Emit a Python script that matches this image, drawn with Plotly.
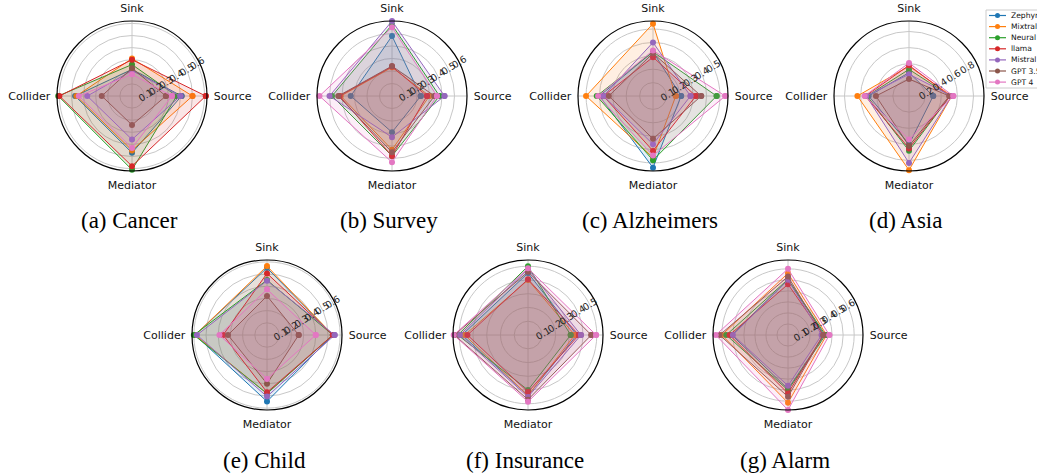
import plotly.graph_objects as go

MODELS = ["Zephyr", "Mixtral", "Neural", "llama", "Mistral", "GPT 3.5", "GPT 4"]
COLORS = ["#1f77b4", "#ff7f0e", "#2ca02c", "#d62728", "#9467bd", "#8c564b", "#e377c2"]
CATEGORIES = ["Source", "Sink", "Collider", "Mediator"]
ANGLES = [0, 90, 180, 270]

# values per model: [Source, Sink, Collider, Mediator]
CANCER = [[0.41, 0.22, 0.47, 0.47], [0.50, 0.31, 0.46, 0.45], [0.37, 0.26, 0.61, 0.61],
          [0.61, 0.30, 0.60, 0.58], [0.40, 0.21, 0.37, 0.36], [0.28, 0.23, 0.25, 0.24],
          [0.33, 0.18, 0.44, 0.43]]
SURVEY = [[0.23, 0.48, 0.33, 0.29], [0.30, 0.23, 0.41, 0.43], [0.38, 0.57, 0.48, 0.48],
          [0.28, 0.235, 0.42, 0.48], [0.42, 0.60, 0.50, 0.33], [0.34, 0.24, 0.43, 0.45],
          [0.36, 0.55, 0.58, 0.53]]
ALZHEIMERS = [[0.21, 0.33, 0.40, 0.535], [0.17, 0.54, 0.50, 0.46], [0.475, 0.33, 0.42, 0.48],
              [0.32, 0.29, 0.37, 0.41], [0.28, 0.40, 0.37, 0.36], [0.36, 0.32, 0.33, 0.32],
              [0.54, 0.34, 0.41, 0.445]]
ASIA = [[0.30, 0.29, 0.50, 0.60], [0.53, 0.37, 0.64, 0.92], [0.51, 0.33, 0.52, 0.68],
        [0.51, 0.38, 0.54, 0.65], [0.53, 0.27, 0.53, 0.83], [0.50, 0.21, 0.41, 0.62],
        [0.55, 0.41, 0.55, 0.54]]
CHILD = [[0.54, 0.55, 0.59, 0.545], [0.54, 0.565, 0.59, 0.48], [0.54, 0.45, 0.60, 0.48],
         [0.54, 0.505, 0.36, 0.47], [0.555, 0.445, 0.575, 0.505], [0.26, 0.32, 0.32, 0.40],
         [0.40, 0.375, 0.39, 0.36]]
INSURANCE = [[0.355, 0.45, 0.48, 0.44], [0.34, 0.40, 0.46, 0.44], [0.31, 0.50, 0.51, 0.40],
             [0.37, 0.405, 0.44, 0.415], [0.385, 0.48, 0.495, 0.45], [0.46, 0.46, 0.535, 0.47],
             [0.495, 0.485, 0.54, 0.485]]
ALARM = [[0.33, 0.50, 0.51, 0.49], [0.35, 0.56, 0.60, 0.615], [0.34, 0.505, 0.56, 0.50],
         [0.32, 0.46, 0.53, 0.53], [0.305, 0.50, 0.50, 0.46], [0.32, 0.53, 0.62, 0.56],
         [0.375, 0.60, 0.655, 0.68]]

TITLES = ["(a) Cancer", "(b) Survey", "(c) Alzheimers", "(d) Asia", "(e) Child", "(f) Insurance", "(g) Alarm"]
DATASETS = [CANCER, SURVEY, ALZHEIMERS, ASIA, CHILD, INSURANCE, ALARM]
RMAX = [0.62, 0.60, 0.56, 0.93, 0.615, 0.545, 0.68]
TICKS = [[0.1, 0.2, 0.3, 0.4, 0.5, 0.6], [0.1, 0.2, 0.3, 0.4, 0.5, 0.6],
         [0.1, 0.2, 0.3, 0.4, 0.5], [0.2, 0.4, 0.6, 0.8],
         [0.1, 0.2, 0.3, 0.4, 0.5, 0.6], [0.1, 0.2, 0.3, 0.4, 0.5],
         [0.1, 0.2, 0.3, 0.4, 0.5, 0.6]]

W, H = 1037, 474
R = 75
CENTERS = [(132, 96), (392, 96), (653, 96), (909, 96), (267, 335), (528, 335), (788, 335)]
CAPTION_Y = [220, 220, 220, 220, 460, 460, 460]


def rgba(hexc, a):
    h = hexc.lstrip("#")
    return "rgba(%d,%d,%d,%s)" % (int(h[0:2], 16), int(h[2:4], 16), int(h[4:6], 16), a)


def px(x):
    return x / W


def py(y):
    return 1 - y / H


fig = go.Figure()
layout = {}
annotations = []
shapes = []
for k, (data, title) in enumerate(zip(DATASETS, TITLES)):
    pname = "polar" if k == 0 else "polar%d" % (k + 1)
    for m, (name, col) in enumerate(zip(MODELS, COLORS)):
        vals = data[m]
        fig.add_trace(go.Scatterpolar(
            r=vals + [vals[0]], theta=ANGLES + [ANGLES[0]], thetaunit="degrees",
            mode="lines+markers", name=name, legendgroup=name, showlegend=False,
            line=dict(color=col, width=1), marker=dict(color=col, size=6),
            fill="toself", fillcolor=rgba(col, 0.12), subplot=pname,
        ))
    cx, cy = CENTERS[k]
    layout[pname] = dict(
        domain=dict(x=[px(cx - R), px(cx + R)], y=[py(cy + R), py(cy - R)]),
        bgcolor="white",
        radialaxis=dict(range=[0, RMAX[k]], tickvals=TICKS[k], ticktext=[("%g" % t) for t in TICKS[k]],
                        angle=32, tickangle=0, showline=False, ticks="", gridcolor="#c8c8c8",
                        gridwidth=0.8, tickfont=dict(family="DejaVu Sans", size=9.5, color="#222")),
        angularaxis=dict(tickmode="array", tickvals=ANGLES, ticktext=CATEGORIES,
                         rotation=0, direction="counterclockwise", showline=True,
                         linecolor="black", linewidth=1.2, gridcolor="#c8c8c8",
                         ticks="outside", ticklen=4, tickcolor="rgba(0,0,0,0)",
                         tickfont=dict(family="DejaVu Sans", size=11, color="#111")),
    )
    annotations.append(dict(text=title, x=px(cx - 3), y=py(CAPTION_Y[k]), xref="paper", yref="paper",
                            showarrow=False, xanchor="center", yanchor="middle",
                            font=dict(family="Liberation Serif", size=23, color="black")))

# legend box (matplotlib-style, compact)
LEG_X, LEG_Y, LEG_DY = 986, 10, 11.1
shapes.append(dict(type="rect", xref="paper", yref="paper", x0=px(LEG_X), x1=px(LEG_X + 70),
                   y0=py(LEG_Y + 78), y1=py(LEG_Y), line=dict(color="#cccccc", width=1),
                   fillcolor="rgba(255,255,255,0.85)", layer="above"))
for i, (name, col) in enumerate(zip(MODELS, COLORS)):
    yy = LEG_Y + 5.5 + LEG_DY * i
    shapes.append(dict(type="line", xref="paper", yref="paper", x0=px(LEG_X + 3), x1=px(LEG_X + 20),
                       y0=py(yy), y1=py(yy), line=dict(color=col, width=1.2), layer="above"))
    shapes.append(dict(type="circle", xref="paper", yref="paper", x0=px(LEG_X + 9), x1=px(LEG_X + 14),
                       y0=py(yy + 2.5), y1=py(yy - 2.5), line=dict(color=col, width=0),
                       fillcolor=col, layer="above"))
    annotations.append(dict(text=name, x=px(LEG_X + 23), y=py(yy), xref="paper", yref="paper",
                            showarrow=False, xanchor="left", yanchor="middle",
                            font=dict(family="DejaVu Sans", size=7.6, color="#111")))

fig.update_layout(
    width=W, height=H, margin=dict(l=0, r=0, t=0, b=0),
    paper_bgcolor="white", showlegend=False,
    annotations=annotations, shapes=shapes,
    **layout,
)
fig.write_html("out.html", config={"displayModeBar": False},
               post_script="document.body.style.margin='0px';")
